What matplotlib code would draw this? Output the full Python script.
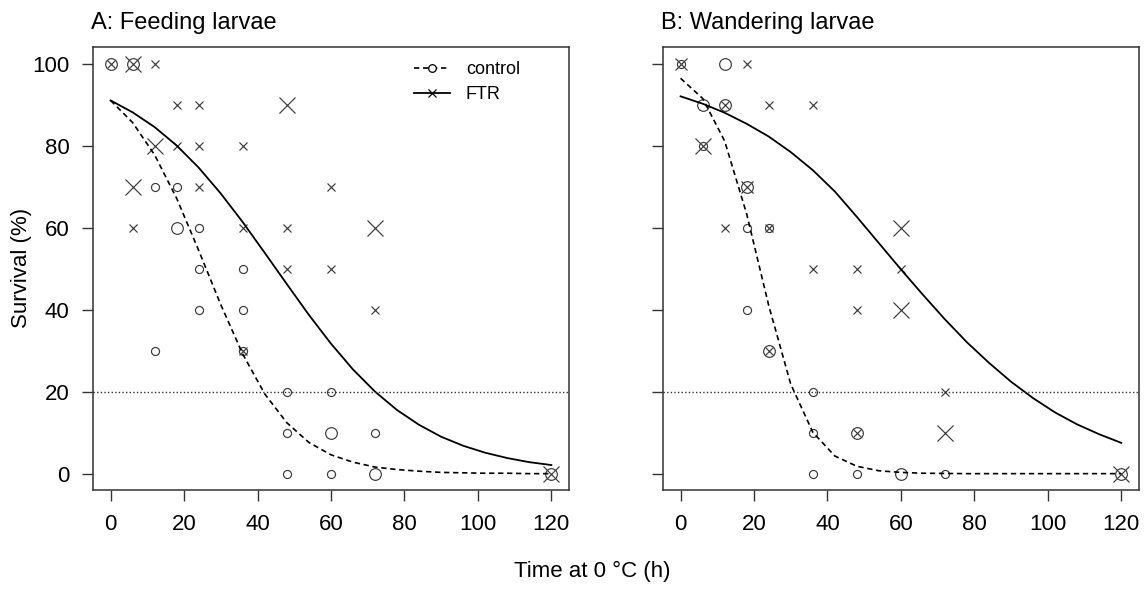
import matplotlib.pyplot as plt
import numpy as np

plt.rcParams['font.family'] = ['Liberation Sans', 'DejaVu Sans']

# raw observations: time (h), survival (%), number of overlapping replicates
a_ctrl_t = [0, 6, 12, 18, 18, 24, 24, 36, 24, 36, 12, 36, 48, 60, 48, 60, 72, 48, 60, 72, 120]
a_ctrl_s = [100, 100, 70, 70, 60, 60, 50, 50, 40, 40, 30, 30, 20, 20, 10, 10, 10, 0, 0, 0, 0]
a_ctrl_n = [2, 2, 1, 1, 2, 1, 1, 1, 1, 1, 1, 1, 1, 1, 1, 2, 1, 1, 1, 2, 2]

a_ftr_t = [0, 6, 12, 18, 24, 48, 12, 18, 24, 36, 6, 24, 60, 6, 36, 48, 72, 48, 60, 72, 36, 120]
a_ftr_s = [100, 100, 100, 90, 90, 90, 80, 80, 80, 80, 70, 70, 70, 60, 60, 60, 60, 50, 50, 40, 30, 0]
a_ftr_n = [1, 3, 1, 1, 1, 3, 3, 1, 1, 1, 3, 1, 1, 1, 1, 1, 3, 1, 1, 1, 1, 3]

b_ctrl_t = [0, 12, 6, 12, 6, 18, 18, 24, 18, 24, 36, 36, 48, 36, 48, 60, 72, 120]
b_ctrl_s = [100, 100, 90, 90, 80, 70, 60, 60, 40, 30, 20, 10, 10, 0, 0, 0, 0, 0]
b_ctrl_n = [1, 2, 2, 2, 1, 2, 1, 1, 1, 2, 1, 1, 2, 1, 1, 2, 1, 2]

b_ftr_t = [0, 18, 12, 24, 36, 6, 18, 12, 24, 60, 36, 48, 60, 48, 60, 24, 72, 48, 72, 120]
b_ftr_s = [100, 100, 90, 90, 90, 80, 70, 60, 60, 60, 50, 50, 50, 40, 40, 30, 20, 10, 10, 0]
b_ftr_n = [2, 1, 1, 1, 1, 3, 2, 1, 1, 3, 1, 1, 1, 1, 3, 1, 1, 1, 3, 3]

# fitted curves, read every 6 h
fit_t = [0, 6, 12, 18, 24, 30, 36, 42, 48, 54, 60, 66, 72, 78, 84, 90, 96, 102, 108, 114, 120]
a_ctrl_fit = [91.0, 85.6, 77.7, 67.1, 54.4, 41.2, 29.1, 19.4, 12.4, 7.6, 4.6, 2.8, 1.6, 1.0,
              0.6, 0.3, 0.2, 0.1, 0.1, 0.0, 0.0]
a_ftr_fit = [91.0, 88.1, 84.5, 80.0, 74.6, 68.3, 61.3, 53.8, 46.2, 38.7, 31.7, 25.4, 20.0, 15.5,
             11.9, 9.0, 6.8, 5.1, 3.8, 2.8, 2.1]
b_ctrl_fit = [96.4, 91.5, 81.1, 63.3, 41.0, 21.8, 10.1, 4.3, 1.8, 0.7, 0.3, 0.1, 0.05, 0.0,
              0.0, 0.0, 0.0, 0.0, 0.0, 0.0, 0.0]
b_ftr_fit = [92.0, 90.2, 88.0, 85.3, 82.2, 78.4, 74.0, 68.8, 62.6, 56.2, 49.8, 43.6, 37.6, 32.0,
             27.0, 22.4, 18.4, 14.9, 12.0, 9.6, 7.5]

titles = ['A: Feeding larvae', 'B: Wandering larvae']
size_by_n = {1: 5.8, 2: 8.4, 3: 11.8}
pt_col = '#3a3a3a'

fig = plt.figure(figsize=(11.45, 5.89), dpi=100)
ax_a = fig.add_axes([0.0812, 0.168, 0.4157, 0.752])
ax_b = fig.add_axes([0.579, 0.168, 0.4157, 0.752])

panels = [
    (ax_a, a_ctrl_t, a_ctrl_s, a_ctrl_n, a_ftr_t, a_ftr_s, a_ftr_n, a_ctrl_fit, a_ftr_fit),
    (ax_b, b_ctrl_t, b_ctrl_s, b_ctrl_n, b_ftr_t, b_ftr_s, b_ftr_n, b_ctrl_fit, b_ftr_fit),
]

for i, (ax, ct, cs, cn, ft, fs, fn, cfit, ffit) in enumerate(panels):
    for t, s, n in zip(ct, cs, cn):
        ax.plot(t, s, 'o', ms=size_by_n[n], mfc='none', mec=pt_col, mew=0.85)
    for t, s, n in zip(ft, fs, fn):
        ax.plot(t, s, 'x', ms=size_by_n[n], mec=pt_col, mew=0.85)
    ax.plot(fit_t, cfit, color='black', lw=1.2, ls=(0, (3.2, 2.2)))
    ax.plot(fit_t, ffit, color='black', lw=1.3)
    ax.axhline(20, color='#333333', lw=1.0, ls=(0, (1, 1.6)))

    ax.set_xlim(-4.8, 124.8)
    ax.set_ylim(-4, 104)
    ax.set_xticks(np.arange(0, 121, 20))
    ax.set_yticks(np.arange(0, 101, 20))
    ax.tick_params(direction='out', length=8, width=1, labelsize=16, color='#333333', pad=9)
    for sp in ax.spines.values():
        sp.set_linewidth(1.1)
        sp.set_color('#333333')
    ax.text(-0.005, 1.03, titles[i], transform=ax.transAxes, fontsize=17, ha='left', va='bottom')

ax_b.tick_params(labelleft=False)

# legend
ax_a.plot([], [], color='black', lw=1.2, ls=(0, (3.2, 2.2)), marker='o', ms=5.5,
          mfc='white', mec='black', mew=0.9, label='control')
ax_a.plot([], [], color='black', lw=1.3, marker='x', ms=6, mew=0.9, label='FTR')
handles, labels = ax_a.get_legend_handles_labels()
ax_a.legend(handles[-2:], labels[-2:], loc='upper left', bbox_to_anchor=(0.66, 0.985),
            frameon=False, fontsize=13, handlelength=2.0, handletextpad=0.85,
            labelspacing=0.45, borderaxespad=0)

fig.text(0.019, 0.545, 'Survival (%)', fontsize=16, ha='center', va='center', rotation=90)
fig.text(0.517, 0.03, 'Time at 0 \u00b0C (h)', fontsize=16, ha='center', va='center')

plt.savefig('out.png', dpi=100)
